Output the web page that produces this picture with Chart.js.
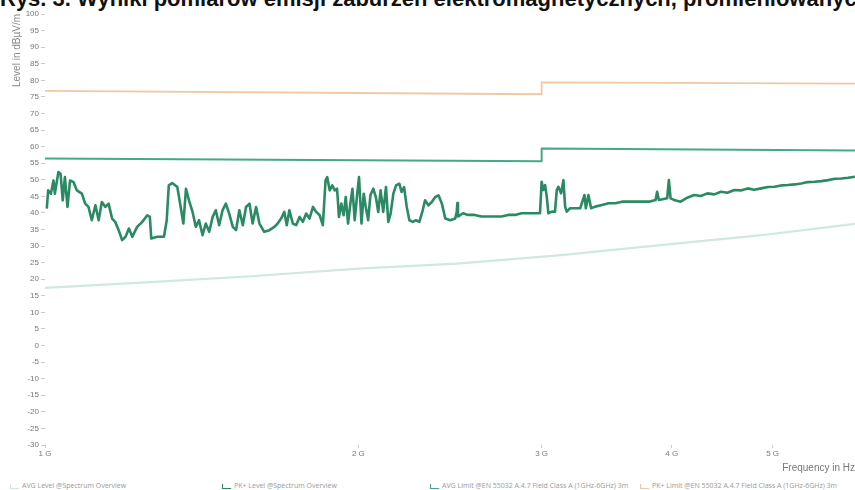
<!DOCTYPE html>
<html>
<head>
<meta charset="utf-8">
<script src="https://cdn.jsdelivr.net/npm/chart.js@4.4.1/dist/chart.umd.min.js"></script>
<style>
  body { margin: 0; background: #fff; width: 855px; height: 490px; overflow: hidden; position: relative; font-family: "Open Sans", "Noto Sans", sans-serif; }
  #title { position: absolute; left: 0; top: -14px; width: 855px; white-space: nowrap; overflow: hidden; font: bold 22px "Liberation Sans", Arial, sans-serif; color: #111; text-align: right; }
  #wrap { position: absolute; left: 0; top: 0; width: 855px; height: 474px; }
  #legend { position: absolute; left: 0; top: 481px; width: 855px; height: 9px; font-size: 7px; color: #999; white-space: nowrap; overflow: hidden; }
  #legend span.item { position: absolute; top: 0; }
  #legend span.ico { display: inline-block; width: 8px; height: 4px; border-left: 1.5px solid; border-bottom: 1.5px solid; margin-right: 3px; vertical-align: middle; }
</style>
</head>
<body>
<div id="title">Rys. 3. Wyniki pomiarów emisji zaburzeń elektromagnetycznych, promieniowanych</div>
<div id="wrap"><canvas id="emi"></canvas></div>
<div id="legend"></div>
<script>
// frequencies in MHz, levels in dBµV/m
const xTicks = [1000, 2000, 3000, 4000, 5000];

const pkFreq = [
  1004, 1007, 1013, 1019, 1022, 1030, 1035, 1040, 1045, 1051, 1057, 1065, 1073, 1085, 1093, 1101,
  1109, 1118, 1126, 1134, 1143, 1151, 1160, 1168, 1177, 1186, 1195, 1204, 1213, 1226, 1240, 1254,
  1261, 1265, 1282, 1301, 1309, 1315, 1325, 1340, 1350, 1358, 1366, 1375, 1386, 1396, 1406, 1417,
  1427, 1438, 1449, 1459, 1470, 1481, 1492, 1503, 1515, 1526, 1537, 1549,
  1560, 1572, 1583, 1595, 1607, 1624, 1643, 1661, 1673, 1686, 1698, 1707, 1717, 1730, 1743, 1756,
  1769, 1782, 1795, 1809, 1822, 1836, 1849, 1860, 1867, 1877, 1888, 1898, 1908, 1916, 1926, 1936,
  1945, 1955, 1965, 1974, 1984, 1995, 2003, 2014, 2024, 2033, 2044, 2054, 2067, 2079, 2090, 2101,
  2113, 2126, 2137, 2148, 2161, 2174, 2190, 2201, 2213, 2226, 2239, 2256, 2272, 2289, 2306, 2318,
  2335, 2353, 2371, 2388, 2406, 2424, 2451, 2478, 2486, 2490,
  2493, 2521, 2549, 2587, 2626, 2665, 2705, 2745, 2786, 2828, 2870, 2913, 2956, 2989,
  3000, 3011, 3023, 3034, 3045, 3068, 3090, 3102, 3113, 3132, 3148, 3160, 3171, 3195, 3231, 3267,
  3298, 3308, 3327, 3347, 3378, 3428, 3479, 3531, 3584, 3638, 3692, 3746, 3803, 3860,
  3873, 3888, 3930, 3960, 3975, 3990, 4030, 4080, 4140, 4204, 4265, 4329, 4395, 4460, 4525, 4594,
  4660, 4732, 4800, 4875, 4950, 5021, 5095, 5171, 5250, 5328, 5405, 5488, 5570, 5653, 5740, 5823,
  5910, 5998
];
const pkLevel = [
  41.3, 46.8, 45.8, 49.8, 45.8, 52.3, 51.8, 43.8, 50.8, 41.8, 49.8, 49.3, 46.8, 45.8, 42.8, 41.8,
  37.8, 42.3, 37.8, 43.3, 41.8, 42.8, 38.3, 37.3, 34.8, 31.8, 32.8, 35.3, 32.8, 35.8, 37.3, 39.3,
  38.8, 32.3, 32.8, 32.8, 37.8, 48.3, 49.0, 47.8, 41.8, 36.8, 47.3, 43.8, 40.3, 35.8, 37.8, 33.3,
  36.8, 34.3, 38.8, 40.8, 36.3, 40.8, 42.8, 39.8, 35.8, 34.8, 40.8, 36.3,
  41.8, 42.8, 36.8, 41.8, 36.8, 34.3, 34.8, 35.8, 36.8, 38.3, 40.3, 36.3, 40.8, 36.8, 36.3, 38.8,
  37.3, 39.8, 38.3, 41.8, 40.3, 39.3, 36.3, 49.8, 50.8, 46.8, 48.3, 46.8, 47.3, 38.8, 42.8, 39.3,
  44.8, 36.8, 42.8, 47.3, 37.8, 45.8, 50.8, 36.8, 45.8, 41.8, 37.8, 45.3, 47.3, 44.8, 40.3, 46.8,
  40.3, 47.8, 37.3, 39.8, 45.8, 48.3, 48.8, 46.3, 47.8, 41.8, 37.8, 37.3, 37.8, 37.3, 40.8, 43.8,
  42.3, 43.3, 44.8, 45.3, 42.8, 38.3, 37.8, 38.3, 40.3, 43.0,
  38.9, 39.9, 39.4, 39.4, 38.9, 38.9, 38.9, 38.9, 39.4, 39.4, 39.9, 39.9, 39.9, 39.9,
  49.4, 46.9, 48.4, 44.9, 39.9, 40.4, 40.4, 46.9, 47.9, 45.9, 49.9, 41.9, 40.4, 41.4, 41.4, 41.4,
  45.4, 41.4, 45.4, 41.4, 41.9, 42.4, 42.9, 42.9, 43.4, 43.4, 43.4, 43.4, 43.4, 43.9,
  46.4, 43.9, 44.2, 44.4, 49.9, 44.4, 43.8, 43.4, 44.6, 45.4, 45.1, 45.9, 45.6, 46.4, 46.1, 46.9,
  46.8, 47.4, 47.0, 47.4, 47.8, 47.9, 48.3, 48.4, 48.6, 48.9, 49.3, 49.4, 49.6, 49.9, 50.3, 50.4,
  50.6, 50.9
];

const avgFreq = [1000, 1263, 1577, 2000, 2488, 3113, 3880, 4855, 6000];
const avgLevel = [17.4, 19.1, 20.9, 23.2, 24.7, 27.2, 30.2, 33.2, 36.7];

const limitFreq = [1000, 3000, 3000, 6000];
const avgLimit = [56.4, 55.6, 59.4, 58.8];
const pkLimit = [76.8, 75.8, 79.4, 79.0];

const seriesNames = [
  "AVG Level @Spectrum Overview",
  "PK+ Level @Spectrum Overview",
  "AVG Limit @EN 55032 A.4.7 Field Class A (1GHz-6GHz) 3m",
  "PK+ Limit @EN 55032 A.4.7 Field Class A (1GHz-6GHz) 3m"
];
const seriesColors = ["#cfe8e0", "#2a8a62", "#45a88a", "#f0c8a2"];

const pts = (fs, ls) => fs.map((f, i) => ({ x: f, y: ls[i] }));

const chart = new Chart(document.getElementById("emi"), {
  type: "line",
  data: {
    datasets: [
      { label: seriesNames[3], data: pts(limitFreq, pkLimit), borderColor: seriesColors[3], borderWidth: 1.8 },
      { label: seriesNames[2], data: pts(limitFreq, avgLimit), borderColor: seriesColors[2], borderWidth: 2 },
      { label: seriesNames[0], data: pts(avgFreq, avgLevel), borderColor: seriesColors[0], borderWidth: 2.2 },
      { label: seriesNames[1], data: pts(pkFreq, pkLevel), borderColor: seriesColors[1], borderWidth: 2.6 },
    ],
  },
  options: {
    animation: false,
    responsive: true,
    maintainAspectRatio: false,
    elements: { point: { radius: 0 }, line: { tension: 0, borderJoinStyle: "round" } },
    layout: { padding: { top: 14, right: 0, left: 0, bottom: 0 } },
    plugins: { legend: { display: false }, tooltip: { enabled: false } },
    scales: {
      x: {
        type: "logarithmic",
        min: 1000,
        max: 6000,
        afterBuildTicks: (s) => { s.ticks = xTicks.map((v) => ({ value: v })); },
        afterFit: (s) => { s.height = 29; },
        border: { display: false },
        grid: { drawOnChartArea: false, drawTicks: true, tickLength: 3, color: "#ccc" },
        ticks: {
          autoSkip: false, maxRotation: 0, padding: 1,
          color: "#777", font: { size: 8 },
          callback: (v) => v / 1000 + " G",
        },
        title: {
          display: true, text: "Frequency in Hz", align: "end",
          color: "#777", font: { size: 10 }, padding: { top: 0, bottom: 0 },
        },
      },
      y: {
        min: -30,
        max: 100,
        afterFit: (s) => { s.width = 45; },
        border: { display: false },
        grid: { drawOnChartArea: false, drawTicks: true, tickLength: 4, color: "#ccc" },
        ticks: { stepSize: 5, autoSkip: false, padding: 2, color: "#777", font: { size: 8 } },
        title: {
          display: true, text: "Level in dBµV/m", align: "end",
          color: "#888", font: { size: 10 }, padding: { top: 11, bottom: 0 },
        },
      },
    },
  },
});

// legend row under the chart
const legend = document.getElementById("legend");
const legendX = [10, 222, 430, 640];
seriesNames.forEach((name, i) => {
  const item = document.createElement("span");
  item.className = "item";
  item.style.left = legendX[i] + "px";
  item.innerHTML = '<span class="ico" style="border-color:' + seriesColors[i] + '"></span>' + name;
  legend.appendChild(item);
});
</script>
</body>
</html>
